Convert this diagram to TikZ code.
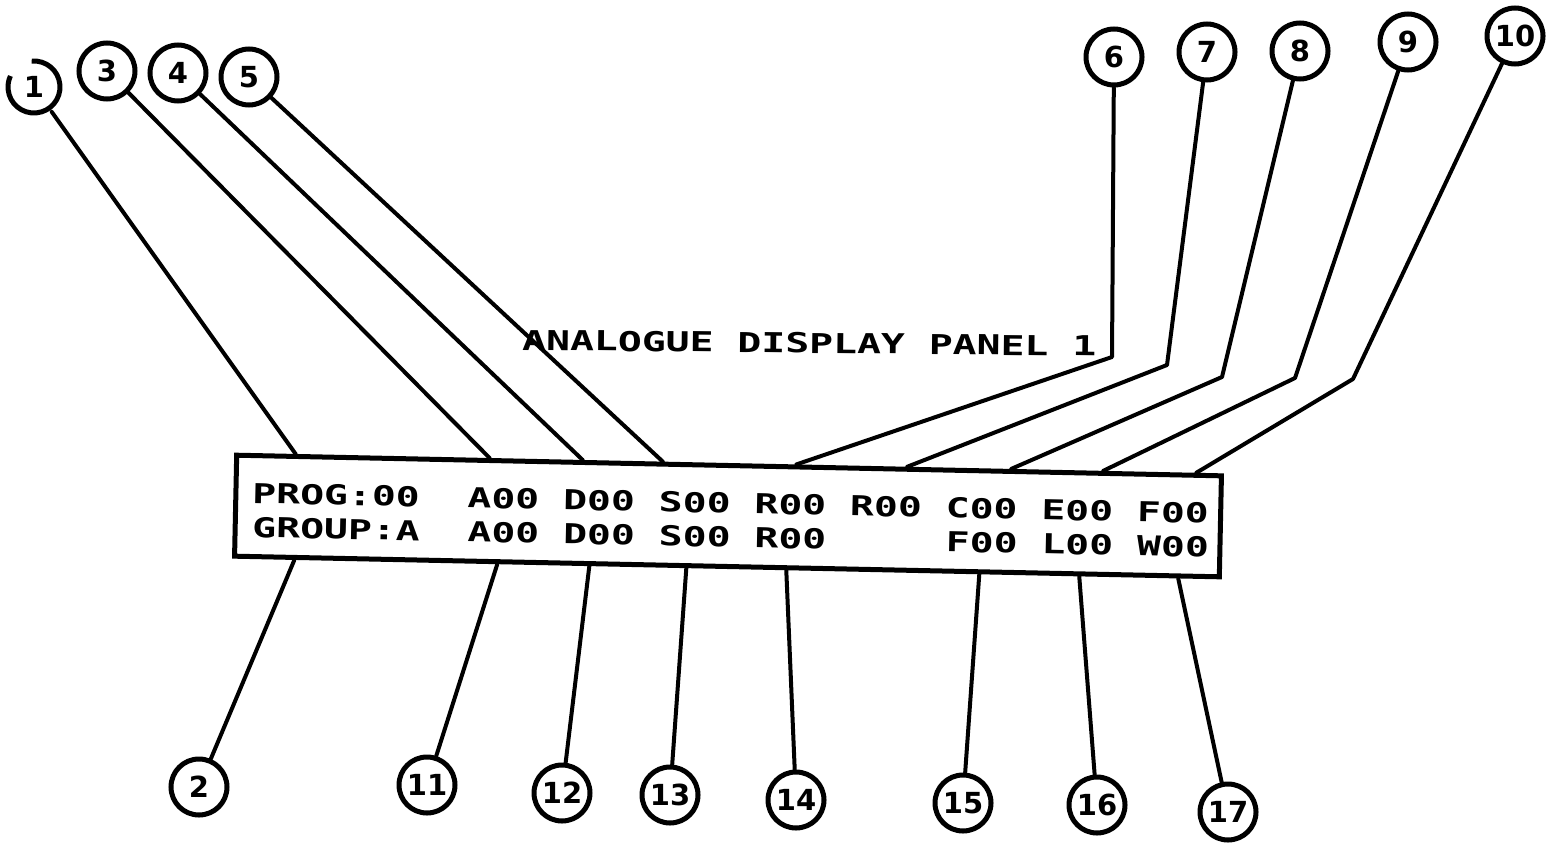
\documentclass[tikz,border=0pt]{standalone}
\usepackage{fontspec}
\usetikzlibrary{calc}
\newfontfamily\panelfont[FakeStretch=1.45]{DejaVu Sans Mono}
\newfontfamily\tagfont{DejaVu Sans}
\tikzset{
  tag/.style = {circle, draw=black, line width=5pt, minimum size=56pt, inner sep=0pt, font=\tagfont\bfseries\fontsize{29}{29}\selectfont},
  panelbox/.style = {rectangle, draw=black, line width=5pt, inner sep=0pt},
  readout/.style = {font=\panelfont\bfseries\fontsize{27.4}{30}\selectfont, inner sep=0pt, anchor=base west},
  lead/.style = {line width=4pt, line join=round, line cap=round},
}
\begin{document}
\begin{tikzpicture}[x=1pt, y=-1pt]
  \useasboundingbox (0,0) rectangle (1557,843);
  % ---------- display panel ----------
  \node[panelbox, rotate=-1.2, minimum width=985pt, minimum height=101pt] (panel) at (728,516) {};
  \node[readout, rotate=-1.2] (row1) at (252,503) {PROG:00\ \ A00 D00 S00 R00 R00 C00 E00 F00};
  \node[readout, rotate=-1.2] (row2) at (252,537) {GROUP:A\ \ A00 D00 S00 R00\ \ \ \ \ F00 L00 W00};
  \node[readout, rotate=-0.6] (title) at (522,350) {ANALOGUE DISPLAY PANEL 1};
  % ---------- numbered tags ----------
  \node[tag, draw=none] (c1) at (34,87) {1};
  \draw[line width=5pt] (c1.center) ++(265:26) arc[start angle=265, end angle=565, radius=26];
  \foreach \n/\x/\y in {3/107/71, 4/178/73, 5/249/77, 6/1114/57, 7/1207/52, 8/1300/51,
                        9/1408/42, 10/1515/36, 2/199/787, 11/427/785, 12/562/793, 13/670/795,
                        14/796/800, 15/963/803, 16/1097/805, 17/1228/812}
    \node[tag] (c\n) at (\x,\y) {\n};
  % ---------- leads to top edge ----------
  \foreach \n/\t in {1/0.062, 3/0.258, 4/0.352, 5/0.433}
    \draw[lead] (c\n) -- ($(panel.north west)!\t!(panel.north east)$);
  \foreach \n/\kx/\ky/\t in {6/1112/357/0.568, 7/1167/365/0.680, 8/1222/377/0.785,
                             9/1295/378/0.878, 10/1353/379/0.972}
  {
    \coordinate (k\n) at (\kx,\ky);
    \draw[lead] (c\n) -- (k\n) -- ($(panel.north west)!\t!(panel.north east)$);
  }
  % ---------- leads from bottom edge ----------
  \foreach \n/\t in {2/0.063, 11/0.268, 12/0.361, 13/0.459, 14/0.560, 15/0.755, 16/0.856, 17/0.956}
    \draw[lead] ($(panel.south west)!\t!(panel.south east)$) -- (c\n);
\end{tikzpicture}
\end{document}
